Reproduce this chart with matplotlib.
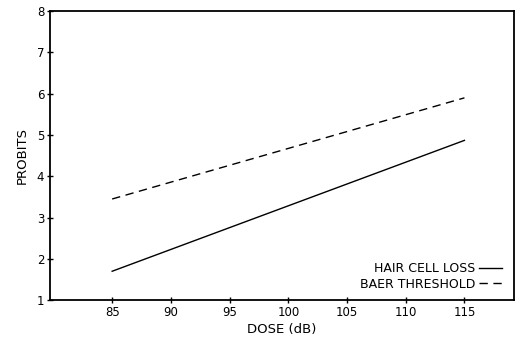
import matplotlib
matplotlib.use("Agg")
import matplotlib.pyplot as plt

dose = [85, 115]
hair_cell_loss = [1.7, 4.87]
baer_threshold = [3.45, 5.9]
xticks = [85, 90, 95, 100, 105, 110, 115]
yticks = [1, 2, 3, 4, 5, 6, 7, 8]

plt.rcParams['font.family'] = ['DejaVu Sans']
fig = plt.figure(figsize=(5.2, 3.38), dpi=100)
ax = fig.add_axes([0.096, 0.112, 0.892, 0.855])
ax.plot(dose, hair_cell_loss, color='black', lw=1.0, label='HAIR CELL LOSS')
ax.plot(dose, baer_threshold, color='black', lw=1.0, ls=(0, (6, 4)), label='BAER THRESHOLD')
ax.set_xlim(79.7, 119.2)
ax.set_ylim(1, 8)
ax.set_xticks(xticks)
ax.set_yticks(yticks)
ax.tick_params(direction='inout', length=4, width=1, labelsize=8.5, pad=2)
for s in ax.spines.values():
    s.set_linewidth(1.3)
ax.set_xlabel('DOSE (dB)', fontsize=9.5, labelpad=3)
ax.set_ylabel('PROBITS', fontsize=9.5, labelpad=6)
leg = ax.legend(loc='lower right', frameon=False, fontsize=9, markerfirst=False,
                handlelength=1.8, handletextpad=0.3, borderaxespad=0.0, labelspacing=0.2,
                bbox_to_anchor=(0.985, 0.015))
fig.savefig('out.png', dpi=100)
